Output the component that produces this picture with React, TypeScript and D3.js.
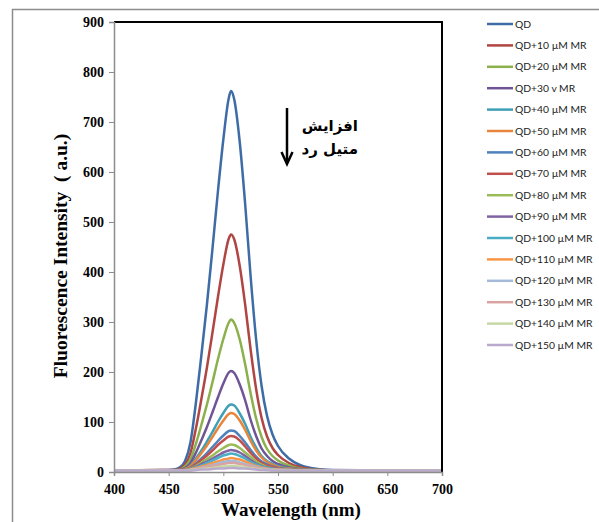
import React, { useEffect, useRef } from 'react';
import * as d3 from 'd3';

const chartWidth = 599;
const chartHeight = 522;
const plot = { left: 114, right: 442, top: 22, bottom: 472 };

// wavelengths (nm) shared by every series
const wavelengths = [400, 450, 455, 460, 465, 470, 475, 480, 485, 490, 495, 500, 505, 507, 510, 515, 520, 525, 530, 535, 540, 545, 550, 560, 570, 580, 590, 600, 650, 700];

const seriesNames = ['QD', 'QD+10 µM MR', 'QD+20 µM MR', 'QD+30 v MR', 'QD+40 µM MR', 'QD+50 µM MR', 'QD+60 µM MR', 'QD+70 µM MR', 'QD+80 µM MR', 'QD+90 µM MR', 'QD+100 µM MR', 'QD+110 µM MR', 'QD+120 µM MR', 'QD+130 µM MR', 'QD+140 µM MR', 'QD+150 µM MR'];
const seriesColors = ['#3d6ca6', '#b04643', '#8cb04c', '#6f5596', '#3f9fb6', '#e8843c', '#4f81bd', '#c0504d', '#9bbb59', '#8064a2', '#4bacc6', '#f79646', '#a5b9d9', '#d9a3a1', '#c6d8a4', '#b9a9cc'];

const qd = [3, 4, 5, 9, 22, 60, 140, 235, 335, 445, 560, 665, 748, 762, 745, 660, 535, 390, 265, 172, 112, 75, 52, 27, 14, 8, 5, 4, 3, 3];
const mr10 = [3, 4, 4, 7, 15, 38, 88, 147, 209, 278, 349, 415, 467, 475, 465, 412, 334, 244, 166, 108, 71, 48, 34, 18, 10, 6, 4, 3, 3, 3];
const mr20 = [3, 3, 4, 5, 11, 26, 57, 95, 135, 179, 225, 266, 299, 305, 298, 265, 215, 157, 107, 70, 46, 32, 23, 13, 7, 5, 4, 3, 3, 3];
const mr30 = [3, 3, 4, 5, 8, 18, 39, 64, 90, 119, 149, 177, 199, 202, 198, 175, 143, 104, 72, 47, 32, 22, 16, 9, 6, 4, 4, 3, 3, 3];
const mr40 = [3, 3, 3, 4, 6, 13, 27, 43, 61, 80, 100, 118, 133, 135, 133, 117, 96, 70, 49, 32, 22, 16, 12, 7, 5, 4, 3, 3, 3, 3];
const mr50 = [3, 3, 3, 4, 6, 12, 24, 38, 53, 70, 87, 103, 116, 118, 116, 103, 84, 62, 43, 29, 20, 14, 10, 7, 5, 4, 3, 3, 3, 3];
const mr60 = [3, 3, 3, 4, 5, 9, 17, 27, 38, 50, 62, 73, 82, 83, 82, 72, 59, 44, 31, 21, 15, 11, 8, 6, 4, 4, 3, 3, 3, 3];
const mr70 = [3, 3, 3, 4, 5, 8, 15, 24, 33, 43, 54, 63, 71, 72, 71, 63, 51, 38, 27, 18, 13, 10, 7, 5, 4, 3, 3, 3, 3, 3];
const mr80 = [3, 3, 3, 3, 4, 7, 12, 19, 26, 33, 41, 48, 54, 55, 54, 48, 39, 30, 21, 15, 10, 8, 6, 5, 4, 3, 3, 3, 3, 3];
const mr90 = [3, 3, 3, 3, 4, 6, 10, 16, 21, 27, 33, 39, 43, 44, 43, 39, 32, 24, 17, 12, 9, 7, 6, 4, 4, 3, 3, 3, 3, 3];
const mr100 = [3, 3, 3, 3, 4, 6, 9, 13, 18, 23, 28, 33, 36, 37, 36, 32, 27, 20, 15, 11, 8, 6, 5, 4, 3, 3, 3, 3, 3, 3];
const mr110 = [3, 3, 3, 3, 4, 5, 8, 11, 14, 18, 21, 25, 27, 28, 27, 25, 21, 16, 12, 9, 7, 5, 5, 4, 3, 3, 3, 3, 3, 3];
const mr120 = [3, 3, 3, 3, 3, 4, 6, 9, 11, 14, 17, 20, 22, 22, 22, 19, 16, 13, 10, 7, 6, 5, 4, 4, 3, 3, 3, 3, 3, 3];
const mr130 = [3, 3, 3, 3, 3, 4, 6, 8, 10, 12, 14, 16, 18, 18, 18, 16, 14, 11, 8, 6, 5, 4, 4, 3, 3, 3, 3, 3, 3, 3];
const mr140 = [3, 3, 3, 3, 3, 4, 5, 6, 7, 8, 10, 11, 12, 12, 12, 11, 9, 8, 6, 5, 4, 4, 4, 3, 3, 3, 3, 3, 3, 3];
const mr150 = [3, 3, 3, 3, 3, 3, 4, 5, 5, 6, 7, 7, 8, 8, 8, 7, 7, 6, 5, 4, 4, 3, 3, 3, 3, 3, 3, 3, 3, 3];

const seriesValues = [qd, mr10, mr20, mr30, mr40, mr50, mr60, mr70, mr80, mr90, mr100, mr110, mr120, mr130, mr140, mr150];

const xTicks = [400, 450, 500, 550, 600, 650, 700];
const yTicks = [0, 100, 200, 300, 400, 500, 600, 700, 800, 900];

const xScale = d3.scaleLinear().domain([400, 700]).range([plot.left, plot.right]);
const yScale = d3.scaleLinear().domain([0, 900]).range([plot.bottom, plot.top]);

const line = d3
  .line<number>()
  .x((_, i) => xScale(wavelengths[i]))
  .y((d) => yScale(d))
  .curve(d3.curveMonotoneX);

const serif = '"Liberation Serif", "Times New Roman", serif';
const persianFont = '"DejaVu Sans", sans-serif';

export default function App() {
  const xAxisRef = useRef<SVGGElement>(null);
  const yAxisRef = useRef<SVGGElement>(null);

  useEffect(() => {
    const xAxis = d3.axisBottom(xScale).tickValues(xTicks).tickSize(4).tickFormat(d3.format('d'));
    const yAxis = d3.axisLeft(yScale).tickValues(yTicks).tickSize(5).tickFormat(d3.format('d'));
    const styleAxis = (g: d3.Selection<SVGGElement, unknown, null, undefined>) => {
      g.select('.domain').attr('stroke', '#8c8c8c').attr('stroke-width', 1.5);
      g.selectAll('.tick line').attr('stroke', '#8c8c8c');
      g.selectAll('.tick text')
        .attr('fill', '#000')
        .style('font-family', serif)
        .style('font-weight', 'bold')
        .style('font-size', '14px');
    };
    d3.select(xAxisRef.current).call(xAxis).call(styleAxis);
    d3.select(xAxisRef.current).selectAll('.tick text').attr('dy', '1.05em');
    d3.select(yAxisRef.current).call(yAxis).call(styleAxis);
    d3.select(yAxisRef.current).selectAll('.tick text').attr('x', -10);
  }, []);

  return (
    <svg
      width={chartWidth}
      height={chartHeight}
      style={{ position: 'absolute', left: 0, top: 0, background: 'white' }}
    >
      {/* outer chart frame */}
      <rect x={12.5} y={9.5} width={chartWidth + 20} height={chartHeight + 20} fill="none" stroke="#8c8c8c" strokeWidth={1.5} />

      {seriesValues.map((vals, i) => (
        <path key={seriesNames[i]} d={line(vals) || ''} fill="none" stroke={seriesColors[i]} strokeWidth={2.5} />
      ))}

      {/* plot box: top and right edges */}
      <path
        d={`M${plot.left},${plot.top} H${plot.right} V${plot.bottom}`}
        fill="none"
        stroke="#000"
        strokeWidth={2}
      />
      <g ref={xAxisRef} transform={`translate(0, ${plot.bottom})`} />
      <g ref={yAxisRef} transform={`translate(${plot.left}, 0)`} />

      <text
        transform={`translate(67, 256) rotate(-90)`}
        textAnchor="middle"
        fontFamily={serif}
        fontWeight="bold"
        fontSize={19.5}
        style={{ whiteSpace: 'pre' }}
      >
        {'Fluorescence Intensity  ( a.u.)'}
      </text>
      <text x={291} y={516} textAnchor="middle" fontFamily={serif} fontWeight="bold" fontSize={19}>
        Wavelength (nm)
      </text>

      {/* annotation */}
      <line x1={287} y1={108} x2={287} y2={163} stroke="#000" strokeWidth={2.5} />
      <path d="M281.5,152 L287,164 L292.5,152" fill="none" stroke="#000" strokeWidth={2.5} strokeLinejoin="miter" />
      <text x={358} y={131} textAnchor="start" direction="rtl" fontFamily={persianFont} fontWeight="bold" fontSize={15}>
        افزایش
      </text>
      <text x={358} y={154} textAnchor="start" direction="rtl" fontFamily={persianFont} fontWeight="bold" fontSize={15}>
        متیل رد
      </text>

      {/* legend */}
      {seriesNames.map((name, i) => {
        const y = 24 + i * 21.4;
        return (
          <g key={name} transform={`translate(487, ${y})`}>
            <line x1={0} x2={26} y1={0} y2={0} stroke={seriesColors[i]} strokeWidth={2.5} />
            <text x={28} y={3.5} fontFamily='Lato, "Open Sans", sans-serif' fontSize={10.3} fill="#222">
              {name}
            </text>
          </g>
        );
      })}
    </svg>
  );
}
